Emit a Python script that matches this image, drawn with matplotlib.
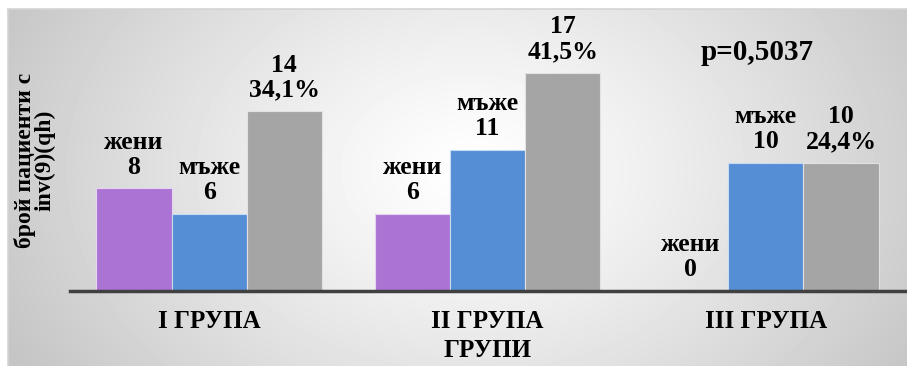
import numpy as np
import matplotlib.pyplot as plt

# данни по групи
groups = ["I ГРУПА", "II ГРУПА", "III ГРУПА"]
women = [8, 6, 0]
men = [6, 11, 10]
total = [14, 17, 10]
total_pct = ["34,1%", "41,5%", "24,4%"]

W, H = 907, 366
plt.rcParams['font.family'] = ['Liberation Serif', 'DejaVu Serif']
plt.rcParams['font.weight'] = 'bold'

fig = plt.figure(figsize=(W / 100, H / 100), dpi=100)
fig.patch.set_facecolor('white')

# фон с радиален градиент
bg = fig.add_axes([8 / W, 0, 1 - 8 / W, 1 - 9 / H], zorder=-2)
gx, gy = np.meshgrid(np.arange(8, W), np.arange(9, H))
d = np.sqrt(((gx - 470) / 520.0) ** 2 + ((gy - 170) / 380.0) ** 2)
val = 255 - 58 * np.clip(d, 0, 1) ** 1.2
bg.imshow(val, cmap='gray', vmin=0, vmax=255, aspect='auto', interpolation='bilinear')
bg.set_xticks([])
bg.set_yticks([])
for s in ['right', 'bottom']:
    bg.spines[s].set_visible(False)
for s in ['left', 'top']:
    bg.spines[s].set_color('#d4d4d4')
    bg.spines[s].set_linewidth(1.2)

ax = fig.add_axes([70 / W, 75 / H, 835 / W, 231 / H])
ax.set_facecolor('none')

x = np.arange(len(groups))
bw = 0.27
c_w, c_m, c_t = '#AB73D3', '#558ED5', '#A5A5A5'
ax.bar(x - bw, women, bw, color=c_w, edgecolor='#e6d3f2', linewidth=0.8)
ax.bar(x, men, bw, color=c_m, edgecolor='#c6daf2', linewidth=0.8)
ax.bar(x + bw, total, bw, color=c_t, edgecolor='#e2e2e2', linewidth=0.8)

lab_kw = dict(textcoords='offset points', xytext=(0, 7), ha='center', va='bottom',
              fontsize=18.5, fontweight='bold', linespacing=1.1)
for i in range(len(groups)):
    ax.annotate(f"жени\n{women[i]}", (x[i] - bw, women[i]), **lab_kw)
    ax.annotate(f"мъже\n{men[i]}", (x[i], men[i]), **lab_kw)
    ax.annotate(f"{total[i]}\n{total_pct[i]}", (x[i] + bw, total[i]), **lab_kw)

ax.set_xlim(-0.5, 2.5)
ax.set_ylim(0, 18)
ax.set_yticks([])
ax.set_xticks(x)
ax.set_xticklabels(groups, fontsize=18, fontweight='bold')
ax.tick_params(axis='x', length=0, pad=14)
for s in ['left', 'right', 'top']:
    ax.spines[s].set_visible(False)
ax.spines['bottom'].set_color('#404040')
ax.spines['bottom'].set_linewidth(2.5)

ax.set_xlabel("ГРУПИ", fontsize=18, fontweight='bold', labelpad=4)

fig.text(35 / W, 1 - 160 / H, "брой пациенти с\ninv(9)(qh)", rotation=90,
         ha='center', va='center', fontsize=17, fontweight='bold', linespacing=0.88)
fig.text(757 / W, 1 - 53 / H, "p=0,5037", ha='center', va='center',
         fontsize=21, fontweight='bold')

fig.savefig('out.png', dpi=100)
